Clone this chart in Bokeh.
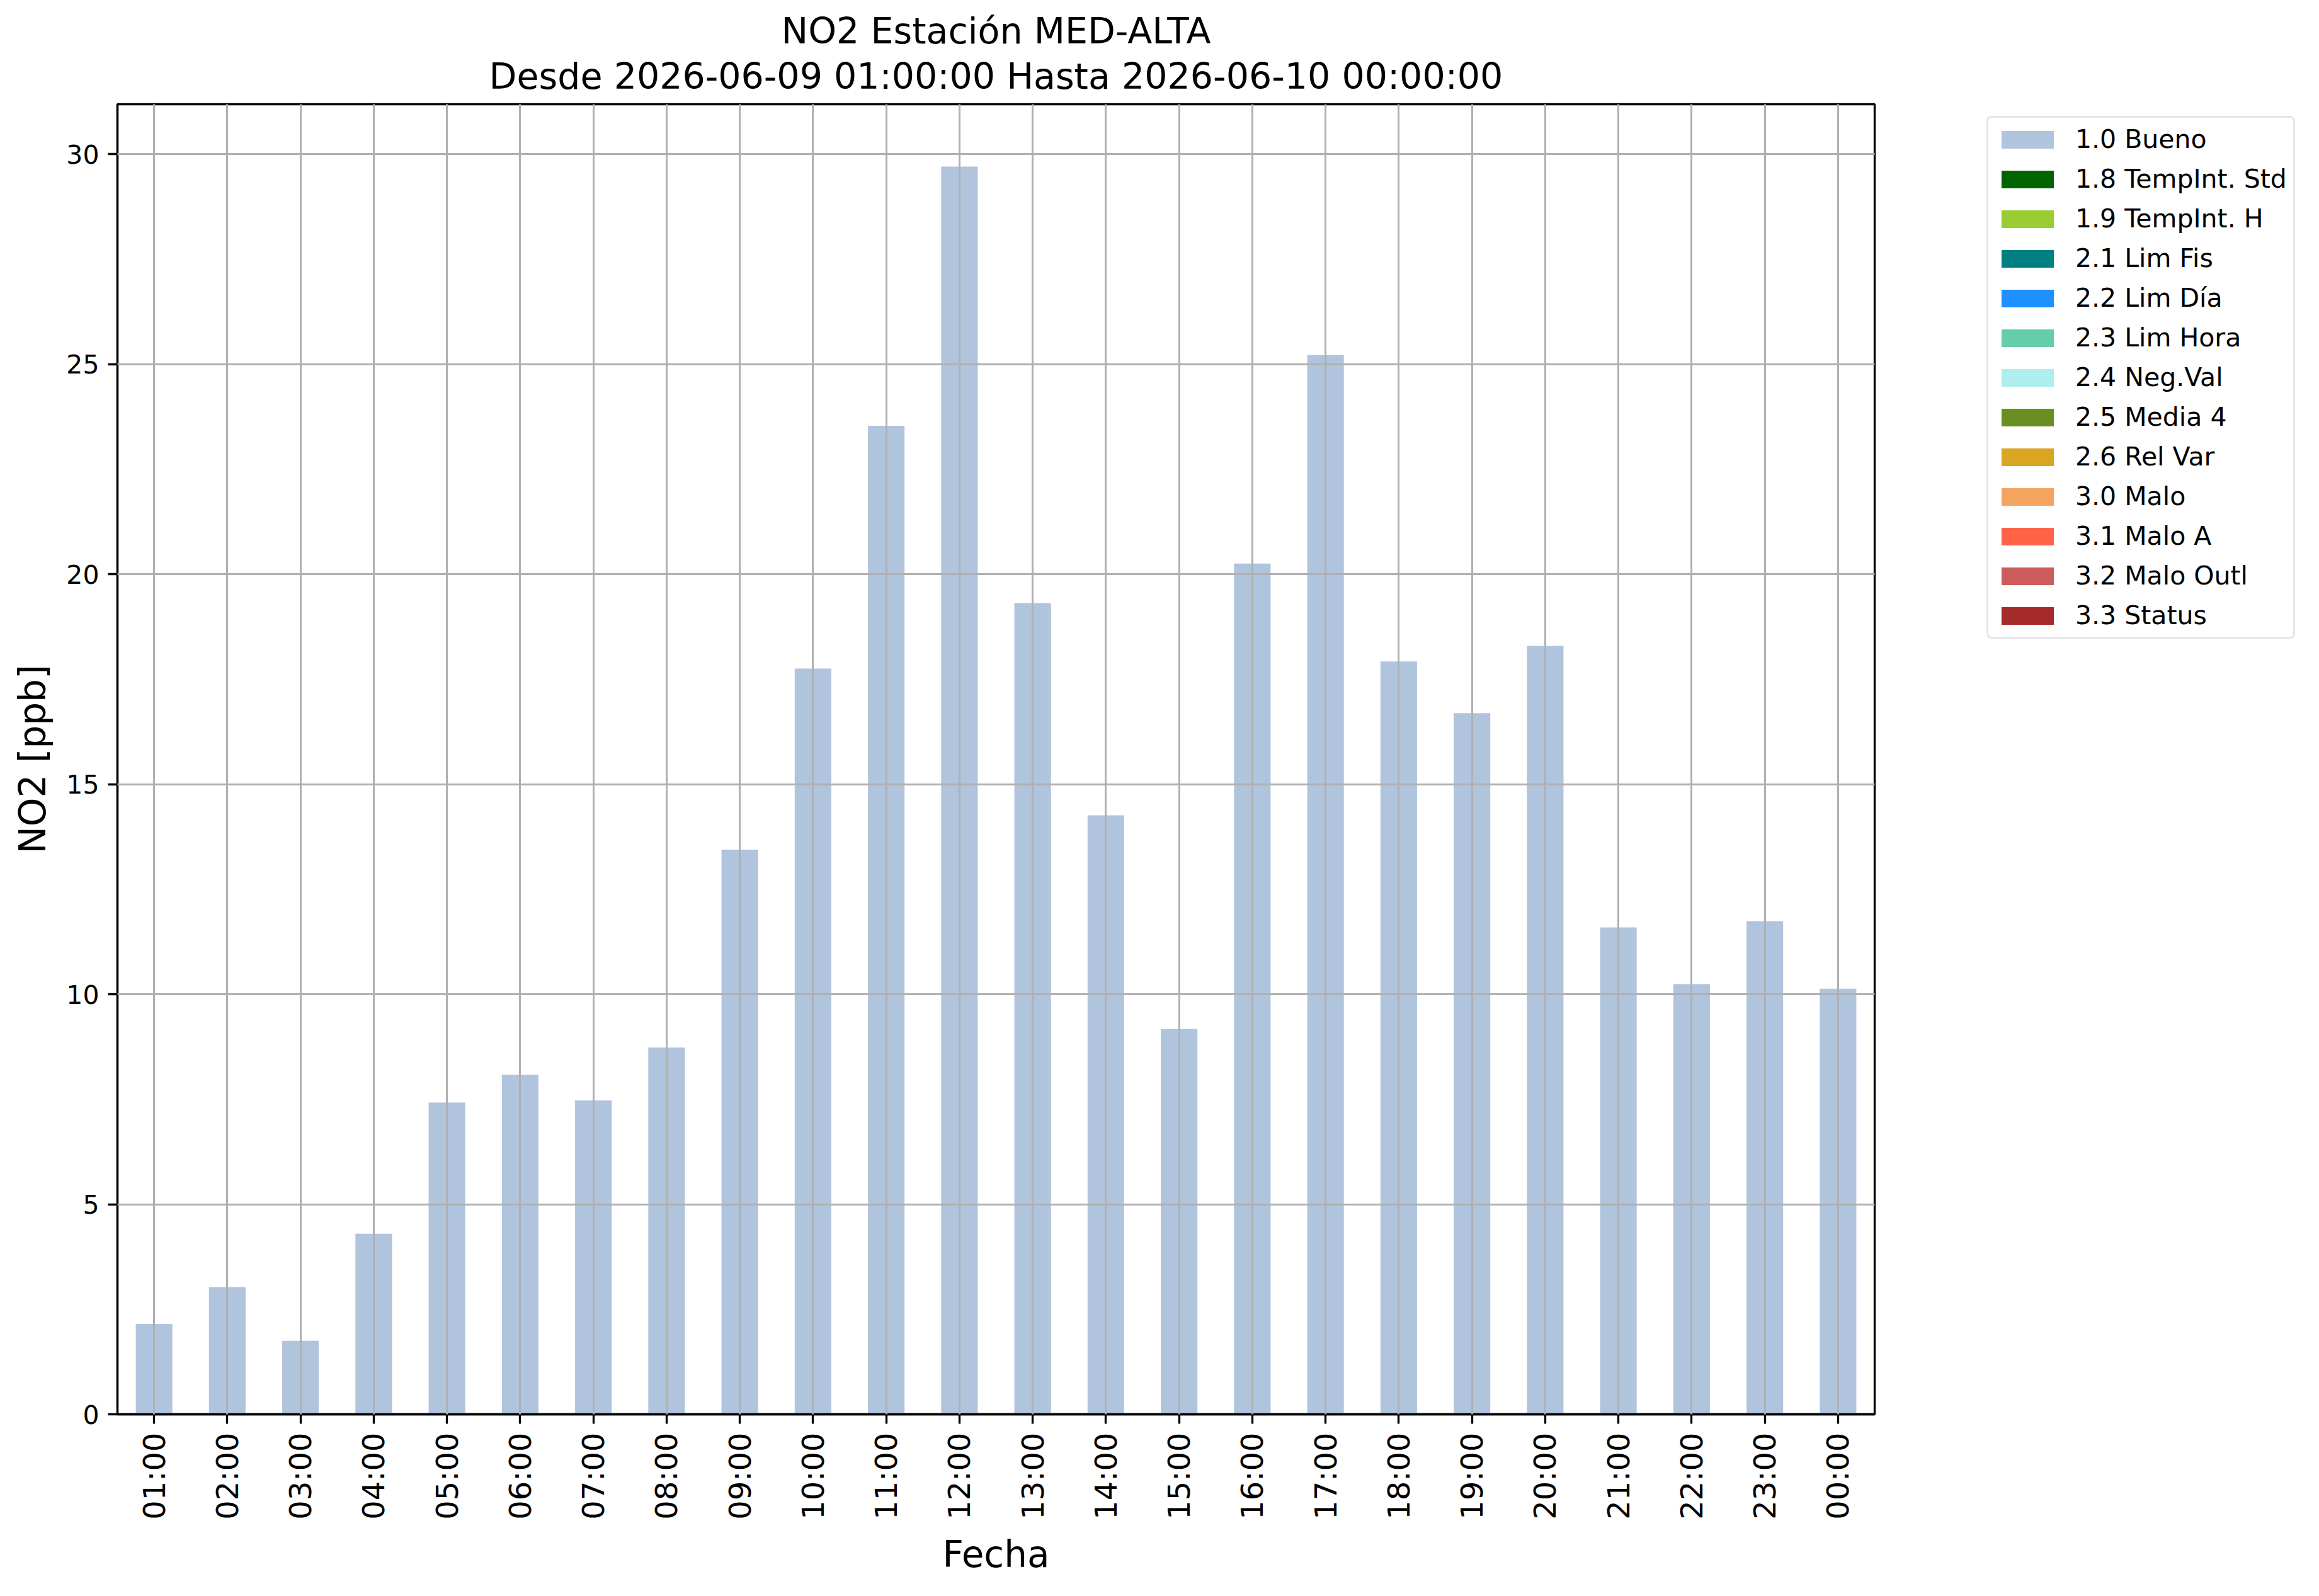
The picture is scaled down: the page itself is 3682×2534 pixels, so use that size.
import math
from bokeh.plotting import figure
from bokeh.models import ColumnDataSource, Range1d, FactorRange, FixedTicker, Legend, LegendItem, Title
from bokeh.embed import file_html
from bokeh.resources import INLINE

hours = ["01:00", "02:00", "03:00", "04:00", "05:00", "06:00", "07:00", "08:00",
         "09:00", "10:00", "11:00", "12:00", "13:00", "14:00", "15:00", "16:00",
         "17:00", "18:00", "19:00", "20:00", "21:00", "22:00", "23:00", "00:00"]
bueno = [2.15, 3.03, 1.75, 4.30, 7.42, 8.08, 7.47, 8.73, 13.44, 17.75, 23.53, 29.70,
         19.31, 14.26, 9.17, 20.25, 25.21, 17.92, 16.69, 18.29, 11.59, 10.24, 11.74, 10.13]
flag_labels = ["1.0 Bueno", "1.8 TempInt. Std", "1.9 TempInt. H", "2.1 Lim Fis", "2.2 Lim Día",
               "2.3 Lim Hora", "2.4 Neg.Val", "2.5 Media 4", "2.6 Rel Var", "3.0 Malo",
               "3.1 Malo A", "3.2 Malo Outl", "3.3 Status"]
flag_colors = ["#B0C4DE", "#006400", "#9ACD32", "#008080", "#1E90FF", "#66CDAA", "#AFEEEE",
               "#6B8E23", "#DAA520", "#F4A460", "#FF6347", "#CD5C5C", "#A52A2A"]
other_flag_value = [0.0]   # the other quality flags have no data in this period
yticks = [0, 5, 10, 15, 20, 25, 30]
title_lines = ["NO2 Estación MED-ALTA", "Desde 2026-06-09 01:00:00 Hasta 2026-06-10 00:00:00"]

FONT = "DejaVu Sans"
ymax = max(bueno) * 1.05

p = figure(x_range=FactorRange(factors=hours, range_padding=0), y_range=Range1d(0, ymax),
           frame_width=2790, frame_height=2080,
           min_border_left=186, min_border_top=165, min_border_right=684, min_border_bottom=270,
           output_backend="svg", toolbar_location=None, background_fill_color="white",
           border_fill_color="white")

src = ColumnDataSource(dict(x=hours, top=bueno))
renderers = [p.vbar(x="x", top="top", width=0.5, source=src, fill_color=flag_colors[0], line_color=None)]
for c in flag_colors[1:]:
    e = ColumnDataSource(dict(x=hours[:1], top=other_flag_value))
    renderers.append(p.vbar(x="x", top="top", width=0.5, source=e, fill_color=c, line_color=None))

# title: two centred lines (later-added Title sits closer to the frame)
def style_title(t, standoff):
    t.align = "center"
    t.text_font = FONT
    t.text_font_size = "57px"
    t.text_font_style = "normal"
    t.text_color = "black"
    t.standoff = standoff
    t.offset = 0

p.title.text = title_lines[0]
style_title(p.title, -16)
t2 = Title(text=title_lines[1])
style_title(t2, 24)
p.add_layout(t2, "above")

# outline
p.outline_line_color = "black"
p.outline_line_width = 3.3

# grids over bars
for g in (p.xgrid, p.ygrid):
    g.grid_line_color = "#b0b0b0"
    g.grid_line_width = 3
    g.level = "overlay"
p.ygrid.ticker = FixedTicker(ticks=yticks)

# axes
p.yaxis.ticker = FixedTicker(ticks=yticks)
for ax in (p.xaxis[0], p.yaxis[0]):
    ax.axis_line_width = 3.3
    ax.axis_line_color = "black"
    ax.major_tick_out = 15
    ax.major_tick_in = 0
    ax.major_tick_line_width = 3.3
    ax.major_tick_line_color = "black"
    ax.minor_tick_line_color = None
    ax.major_label_text_font = FONT
    ax.major_label_standoff = 14
    ax.axis_label_text_font = FONT
    ax.axis_label_text_font_style = "normal"
    ax.axis_label_text_font_size = "58px"
    ax.axis_label_text_color = "black"
    ax.major_label_text_color = "black"

p.yaxis.major_label_text_font_size = "41px"
p.xaxis.major_label_text_font_size = "48px"
p.xaxis.major_label_orientation = math.pi / 2
p.xaxis.axis_label = "Fecha"
p.yaxis.axis_label = "NO2 [ppb]"
p.xaxis.axis_label_standoff = 18
p.yaxis.axis_label_standoff = 16

items = [LegendItem(label=l, renderers=[r]) for l, r in zip(flag_labels, renderers)]
legend = Legend(items=items, location=(178, 1231))
legend.label_text_font = FONT
legend.label_text_font_size = "41px"
legend.label_text_color = "black"
legend.label_text_baseline = "middle"
legend.glyph_width = 104
legend.glyph_height = 35
legend.label_height = 48
legend.label_standoff = 24
legend.spacing = 15
legend.padding = 10
legend.margin = 0
legend.border_line_color = "#cccccc"
legend.border_line_width = 3
legend.background_fill_color = "white"
legend.background_fill_alpha = 0.8
if "border_radius" in legend.properties():
    legend.border_radius = 8
p.add_layout(legend, "right")

open("out.html", "w").write(file_html(p, INLINE))
